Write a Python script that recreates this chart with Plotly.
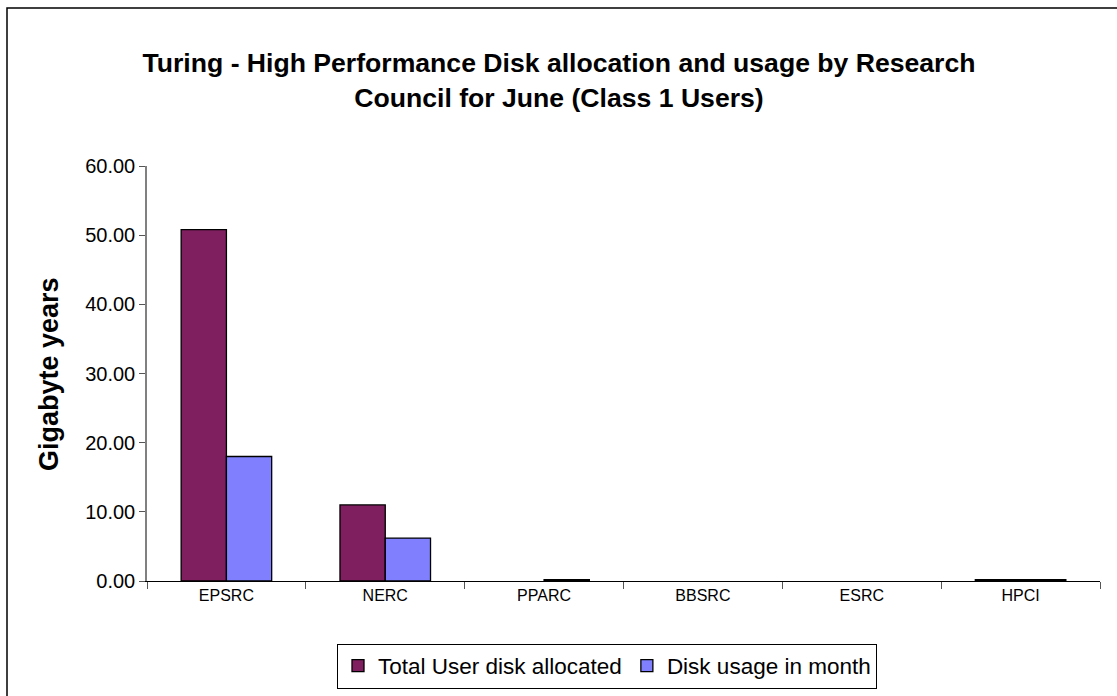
import plotly.graph_objects as go

categories = ["EPSRC", "NERC", "PPARC", "BBSRC", "ESRC", "HPCI"]
allocated = [50.8, 11.0, 0.0, 0.0, 0.0, 0.2]
usage = [18.0, 6.2, 0.2, 0.0, 0.0, 0.2]
y_ticks = [0, 10, 20, 30, 40, 50, 60]

W, H = 1117, 696
L, R, T, B = 147, 17, 166, 115
pw, ph = W - L - R, H - T - B

FONT = "Liberation Sans, Arial, sans-serif"


def outline(vals):
    return [1.3 if v > 0 else 0 for v in vals]


fig = go.Figure()
fig.add_trace(go.Bar(x=categories, y=allocated, name="Total User disk allocated",
                     marker=dict(color="#7F1F5F",
                                 line=dict(color="black", width=outline(allocated)))))
fig.add_trace(go.Bar(x=categories, y=usage, name="Disk usage in month",
                     marker=dict(color="#8080FF",
                                 line=dict(color="black", width=outline(usage)))))


def px_x(p):
    return (p - L) / pw


def px_y(p):
    return 1 - (p - T) / ph


fig.update_layout(
    width=W, height=H,
    margin=dict(l=L, r=R, t=T, b=B),
    paper_bgcolor="white", plot_bgcolor="white",
    barmode="group", bargap=0.43, bargroupgap=0,
    font=dict(family=FONT, color="black"),
    title=dict(text="<b>Turing - High Performance Disk allocation and usage by Research<br>Council for June (Class 1 Users)</b>",
               x=559 / W, xref="container", xanchor="center",
               y=1 - 72 / H, yref="container", yanchor="middle",
               font=dict(size=26.6, family=FONT, color="black")),
    xaxis=dict(showline=True, linecolor="black", linewidth=1, ticks="outside",
               tickson="boundaries", ticklen=7, tickcolor="#555555",
               tickfont=dict(size=16, family=FONT), showgrid=False, zeroline=False,
               range=[-0.5, 5.5]),
    yaxis=dict(range=[0, 60], tickvals=y_ticks, tickformat=".2f", showline=True,
               linecolor="#808080", linewidth=1.5, ticks="outside", ticklen=6,
               tickcolor="#555555", tickfont=dict(size=20, family=FONT),
               showgrid=False, zeroline=False),
    showlegend=True,
    legend=dict(orientation="h", xref="container", yref="container",
                x=607 / W, y=1 - 666 / H, xanchor="center", yanchor="middle",
                bordercolor="black", borderwidth=1, bgcolor="white",
                font=dict(size=22.5, family=FONT), itemwidth=30,
                traceorder="normal"),
)

fig.add_annotation(text="<b>Gigabyte years</b>", textangle=-90, showarrow=False,
                   xref="paper", yref="paper", x=px_x(49), y=px_y(374),
                   xanchor="center", yanchor="middle",
                   font=dict(size=27, family=FONT, color="black"))

fig.add_shape(type="rect", xref="paper", yref="paper",
              x0=px_x(7), y0=px_y(720), x1=px_x(1140), y1=px_y(8),
              line=dict(color="black", width=1.5), layer="below")

fig.write_html("out.html", config={"displayModeBar": False},
               post_script="document.body.style.margin='0';document.body.style.overflow='hidden';")
